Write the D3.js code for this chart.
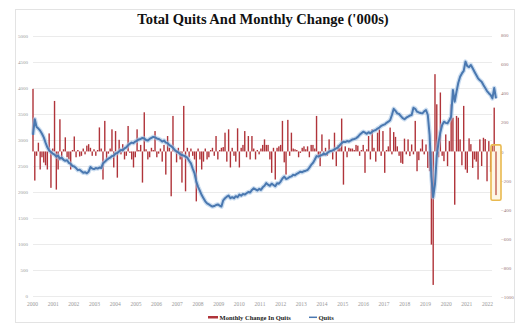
<!DOCTYPE html>
<html>
<head>
<meta charset="utf-8">
<script src="https://cdn.jsdelivr.net/npm/d3@7/dist/d3.min.js"></script>
<style>
  body { margin: 0; background: #fff; }
  svg { display: block; }
</style>
</head>
<body>
<svg id="chart"></svg>
<script>
// total quits, monthly ('000s), first point at the left edge
const quits = [
  3100, 3400, 3250, 3220, 3180, 3120, 3050, 2950, 2860, 2800, 2770, 2740,
  2720, 2680, 2700, 2640, 2660, 2620, 2600, 2610, 2560, 2540, 2500, 2490,
  2460, 2420, 2430, 2400, 2370, 2380, 2360, 2390, 2480, 2450, 2440, 2460,
  2450, 2470, 2460, 2550, 2580, 2615, 2640, 2660, 2690, 2700, 2740, 2750,
  2780, 2810, 2800, 2840, 2860, 2900, 2930, 2950, 2940, 2970, 2990, 3010,
  3020, 3040, 3030, 3000, 2990, 3020, 3040, 3060, 3050, 3030, 3020, 3000,
  2970, 2990, 2950, 2940, 2900, 2880, 2850, 2810, 2780, 2760, 2730, 2710,
  2700, 2680, 2660, 2600, 2550, 2450, 2360, 2200, 2100, 2020, 1940, 1880,
  1820, 1780, 1760, 1740, 1720, 1730, 1750, 1760, 1740, 1720, 1840, 1880,
  1910, 1930, 1880, 1900, 1880, 1920, 1900, 1950, 1930, 1960, 1950, 1975,
  2000, 1990, 2040, 2070, 2050, 2030, 2060, 2040, 2090, 2120, 2170, 2140,
  2120, 2160, 2135, 2110, 2170, 2160, 2200, 2260, 2295, 2250, 2263, 2290,
  2300, 2330, 2320, 2350, 2370, 2390, 2380, 2400, 2410, 2423, 2470, 2520,
  2560, 2620, 2690, 2680, 2700, 2712, 2740, 2720, 2750, 2775, 2790, 2800,
  2820, 2840, 2860, 2900, 2940, 2968, 2960, 2980, 2968, 2990, 3010, 3020,
  3032, 3060, 3100, 3130, 3160, 3140, 3120, 3150, 3128, 3160, 3180, 3192,
  3220, 3240, 3270, 3288, 3300, 3330, 3352, 3380, 3481, 3600, 3560, 3513,
  3500, 3460, 3420, 3400, 3430, 3449, 3470, 3480, 3620, 3600, 3545, 3530,
  3520, 3513, 3550, 3577, 3481, 3100, 2300, 1900, 2150, 2700, 2960, 3150,
  3288, 3352, 3330, 3320, 3380, 3449, 3962, 3737, 3930, 4100, 4218, 4280,
  4330, 4507, 4420, 4400, 4443, 4380, 4314, 4250, 4186, 4150, 4122, 4058,
  4000, 3940, 3900, 3866, 3800, 4000, 3800
];

// monthly change in quits ('000s), same months as above
const change = [
  430, -200, -30, 60, -124, -40, -76, -95, -124, 124, -250, 20,
  347, -262, -124, 221, -55, 15, 97, -40, -55, -124, 10, 103,
  -40, 10, -35, -30, 20, -20, 40, 50, 25, -30, 15, -30,
  10, 165, 20, -193, 210, -55, -15, 20, 152, -110, 140, -180,
  80, -20, 50, -55, -30, 175, -10, -55, -110, -40, 152, 10,
  45, -214, 269, 15, -55, -40, 25, 10, 140, -40, -15, 20,
  -70, 45, -159, 106, 25, -308, 244, 10, -75, 25, -55, -214,
  313, -274, 25, -40, 20, -30, -55, -343, 20, -55, -124, -70,
  20, -55, -40, 10, 25, -30, 106, -55, 10, 25, 30, 129,
  -70, 152, -110, 25, -30, -70, 159, -110, 25, 45, 140, -40,
  106, -55, 106, 20, -55, 10, -20, 20, 45, 83, 45, 45,
  -55, -147, 25, -193, 25, 35, 45, 210, -75, -159, 217, -30,
  129, 20, 15, 10, -40, -10, 25, 35, 15, 35, -40, 45,
  45, 20, 244, -30, -101, 117, -30, 25, -30, 83, 10, -55,
  129, -101, 45, 25, 226, -228, 35, -40, 25, 20, 20, 10,
  45, 40, -30, 10, 45, -147, 15, 106, -55, 152, 25, -70,
  129, 152, -30, 140, -147, 10, 35, 164, -20, 133, 100, 35,
  -30, -78, -85, 88, -20, 83, -32, 48, -20, 210, -136, -60,
  20, 83, -20, 48, -113, -136, -640, -917, 531, 324, -40, 405,
  -30, -67, 117, -101, 71, 324, 232, -366, 244, 232, 83, -95,
  313, -124, -147, 90, 50, -113, -55, -70, -193, 83, -100, 94,
  85, -205, 71, -140, 40, 301, -300
];

const years = d3.range(2000, 2023);
const leftTicks = d3.range(0, 5001, 500);
const rightTicks = d3.range(-1000, 801, 200);
const title = "Total Quits And Monthly Change ('000s)";
const legendLabels = ["Monthly Change In Quits", "Quits"];

const serif = "'Liberation Serif', 'DejaVu Serif', serif";
const W = 529, H = 335;
const svg = d3.select("#chart").attr("width", W).attr("height", H)
  .attr("font-family", serif);

// frame
svg.append("rect")
  .attr("x", 15.5).attr("y", 9.5)
  .attr("width", 499).attr("height", 313)
  .attr("fill", "#fff")
  .attr("stroke", "#e3e3e3");

svg.append("text")
  .attr("x", 263).attr("y", 24)
  .attr("text-anchor", "middle")
  .attr("font-family", serif)
  .attr("font-size", 14.5)
  .attr("font-weight", "bold")
  .attr("fill", "#111")
  .text(title);

const x = d3.scaleLinear().domain([0, quits.length - 1]).range([33, 496]);
const xYear = d3.scaleLinear().domain([2000, 2022]).range([32, 487]);
const yL = d3.scaleLinear().domain([0, 5000]).range([296, 36]);
const yR = d3.scaleLinear().domain([-1000, 800]).range([297, 35]);

// gridlines
svg.append("g")
  .attr("transform", "translate(33,0)")
  .call(d3.axisLeft(yL).tickValues(leftTicks).tickSize(-459).tickFormat(""))
  .call(g => g.select(".domain").remove())
  .selectAll("line").attr("stroke", "#e6e6e6").attr("stroke-width", 0.8);

// left axis labels
svg.append("g")
  .attr("transform", "translate(29,0)")
  .call(d3.axisLeft(yL).tickValues(leftTicks).tickSize(0).tickPadding(1).tickFormat(d3.format("d")))
  .call(g => g.select(".domain").remove())
  .selectAll("text")
  .attr("font-family", serif)
  .attr("font-size", 5).attr("fill", "#999");

// right axis labels
svg.append("g")
  .attr("transform", "translate(500,0)")
  .call(d3.axisRight(yR).tickValues(rightTicks).tickSize(0).tickPadding(1).tickFormat(d3.format("d")))
  .call(g => g.select(".domain").remove())
  .selectAll("text")
  .attr("font-family", serif)
  .attr("font-size", 5).attr("fill", "#977");

// x axis labels
svg.append("g")
  .attr("transform", "translate(0,301)")
  .call(d3.axisBottom(xYear).tickValues(years).tickSize(0).tickPadding(1).tickFormat(d3.format("d")))
  .call(g => g.select(".domain").remove())
  .selectAll("text")
  .attr("font-family", serif)
  .attr("font-size", 5.5).attr("fill", "#999");

// bars (right axis)
svg.append("g")
  .selectAll("rect")
  .data(change)
  .join("rect")
  .attr("x", (d, i) => x(i) - 0.7)
  .attr("width", 1.4)
  .attr("y", d => yR(Math.max(0, d)))
  .attr("height", d => Math.abs(yR(d) - yR(0)))
  .attr("fill", "#b0343a");

// highlight box around the latest bar
const last = change.length - 1;
svg.append("rect")
  .attr("x", x(last) - 5).attr("width", 10)
  .attr("y", yR(45)).attr("height", yR(-335) - yR(45))
  .attr("rx", 1.5)
  .attr("fill", "rgba(250,225,150,0.25)")
  .attr("stroke", "#e9b94f")
  .attr("stroke-width", 1.6);

// quits line (left axis)
const line = d3.line()
  .x((d, i) => x(i))
  .y(d => yL(d));

svg.append("path")
  .datum(quits)
  .attr("fill", "none")
  .attr("stroke", "#a9c7e6")
  .attr("stroke-opacity", 0.6)
  .attr("stroke-width", 4.5)
  .attr("stroke-linejoin", "round")
  .attr("d", line);

svg.append("path")
  .datum(quits)
  .attr("fill", "none")
  .attr("stroke", "#4a78b0")
  .attr("stroke-width", 2)
  .attr("stroke-linejoin", "round")
  .attr("d", line);

// legend
const lg = svg.append("g").attr("font-size", 6.5).attr("font-weight", "bold").attr("fill", "#222");
lg.append("rect").attr("x", 208).attr("y", 316).attr("width", 10).attr("height", 2.5).attr("fill", "#b0343a");
lg.append("text").attr("x", 219.5).attr("y", 319.5).text(legendLabels[0]);
lg.append("line").attr("x1", 309).attr("x2", 317).attr("y1", 317.3).attr("y2", 317.3)
  .attr("stroke", "#4a78b0").attr("stroke-width", 1.5);
lg.append("text").attr("x", 318.5).attr("y", 319.5).text(legendLabels[1]);
</script>
</body>
</html>
